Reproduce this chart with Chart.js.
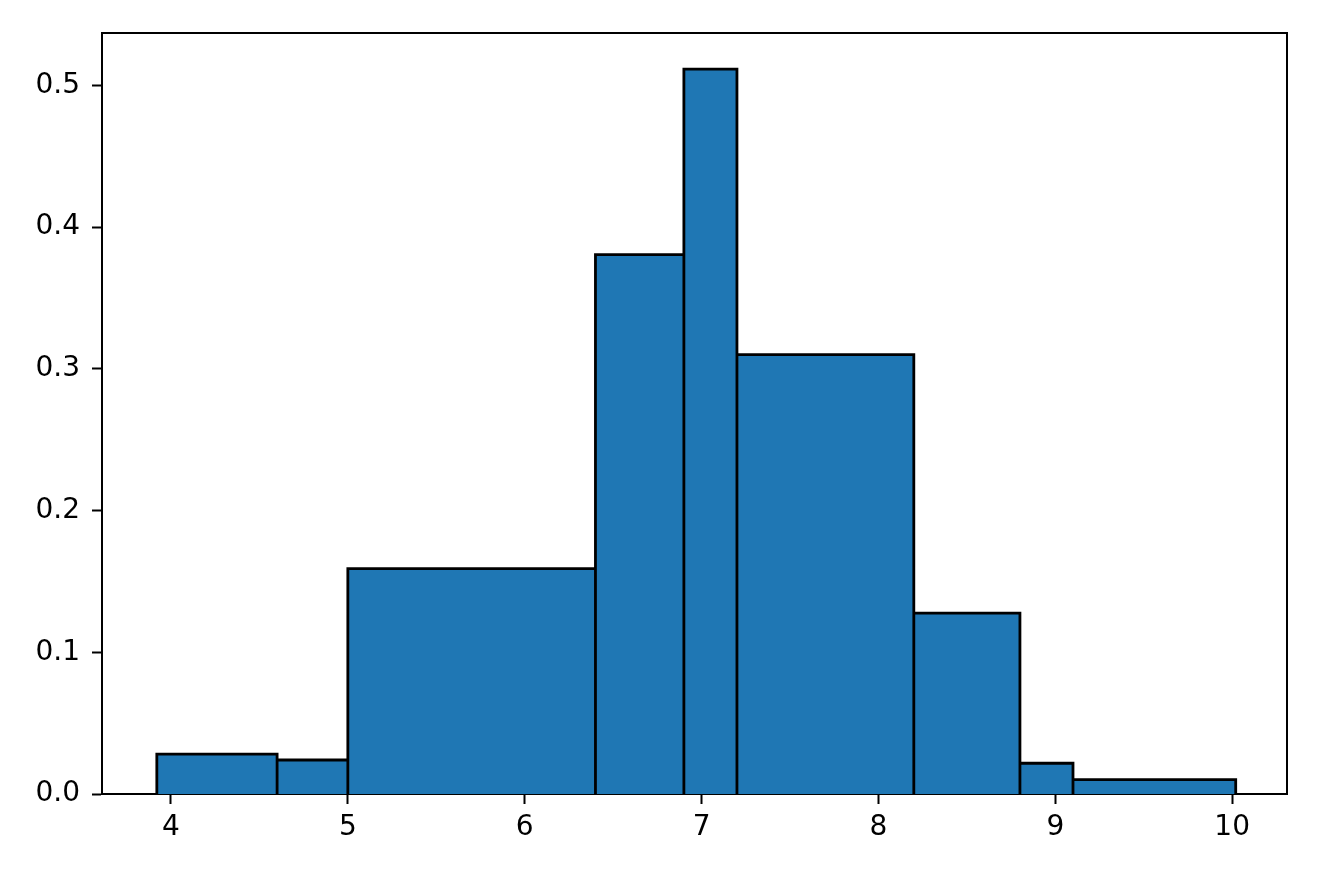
<!DOCTYPE html>
<html lang="en">
<head>
    <meta charset="UTF-8">
    <title>Histogram</title>
    <script src="https://cdn.jsdelivr.net/npm/chart.js"></script>
    <style>
        body {
            margin: 0;
            background-color: #ffffff;
        }
        canvas {
            display: block;
        }
    </style>
</head>
<body>

<canvas id="histograma" width="1320" height="880"></canvas>

<script>
// bin edges and density heights
const binEdges = [3.92, 4.6, 5.0, 6.4, 6.9, 7.2, 8.2, 8.8, 9.1, 10.02];
const densidades = [0.0282, 0.024, 0.159, 0.3806, 0.5115, 0.310, 0.1276, 0.0217, 0.0101];
const xTicks = [4, 5, 6, 7, 8, 9, 10];
const yTicks = [0.0, 0.1, 0.2, 0.3, 0.4, 0.5];

const FONTE = { family: 'DejaVu Sans', size: 28 };

// outline of the histogram: each bar goes up, across and back down to zero
function montarContorno() {
    const pontos = [];
    for (let i = 0; i < densidades.length; i++) {
        pontos.push({ x: binEdges[i], y: 0 });
        pontos.push({ x: binEdges[i], y: densidades[i] });
        pontos.push({ x: binEdges[i + 1], y: densidades[i] });
        pontos.push({ x: binEdges[i + 1], y: 0 });
    }
    return pontos;
}

// top and right spines
const molduraPlugin = {
    id: 'moldura',
    afterDraw(chart) {
        const { ctx, chartArea } = chart;
        ctx.save();
        ctx.strokeStyle = '#000';
        ctx.lineWidth = 2;
        ctx.beginPath();
        ctx.moveTo(chartArea.left, chartArea.top);
        ctx.lineTo(chartArea.right, chartArea.top);
        ctx.lineTo(chartArea.right, chartArea.bottom);
        ctx.stroke();
        ctx.restore();
    }
};

const ctx = document.getElementById('histograma').getContext('2d');

new Chart(ctx, {
    type: 'line',
    data: {
        datasets: [{
            label: 'densidade',
            data: montarContorno(),
            fill: 'origin',
            backgroundColor: '#1f77b4',
            borderColor: '#000000',
            borderWidth: 2.8,
            pointRadius: 0,
            tension: 0,
            borderJoinStyle: 'miter'
        }]
    },
    options: {
        responsive: false,
        animation: false,
        layout: {
            padding: { top: 33, right: 33, left: 0, bottom: 0 }
        },
        plugins: {
            legend: { display: false },
            tooltip: { enabled: false }
        },
        scales: {
            x: {
                type: 'linear',
                min: 3.61,
                max: 10.31,
                afterBuildTicks: function(scale) {
                    scale.ticks = xTicks.map(v => ({ value: v }));
                },
                afterFit: function(scale) {
                    scale.height = 86;
                },
                grid: {
                    drawOnChartArea: false,
                    drawTicks: true,
                    tickLength: 10,
                    tickWidth: 2,
                    tickColor: '#000'
                },
                border: { display: true, color: '#000', width: 2 },
                ticks: {
                    color: '#000',
                    font: FONTE,
                    padding: 7,
                    maxRotation: 0,
                    callback: function(value) {
                        return value.toString();
                    }
                }
            },
            y: {
                type: 'linear',
                min: 0,
                max: 0.537,
                afterBuildTicks: function(scale) {
                    scale.ticks = yTicks.map(v => ({ value: v }));
                },
                afterFit: function(scale) {
                    scale.width = 102;
                },
                grid: {
                    drawOnChartArea: false,
                    drawTicks: true,
                    tickLength: 10,
                    tickWidth: 2,
                    tickColor: '#000'
                },
                border: { display: true, color: '#000', width: 2 },
                ticks: {
                    color: '#000',
                    font: FONTE,
                    padding: 12,
                    callback: function(value) {
                        return value.toFixed(1);
                    }
                }
            }
        }
    },
    plugins: [molduraPlugin]
});
</script>

</body>
</html>
